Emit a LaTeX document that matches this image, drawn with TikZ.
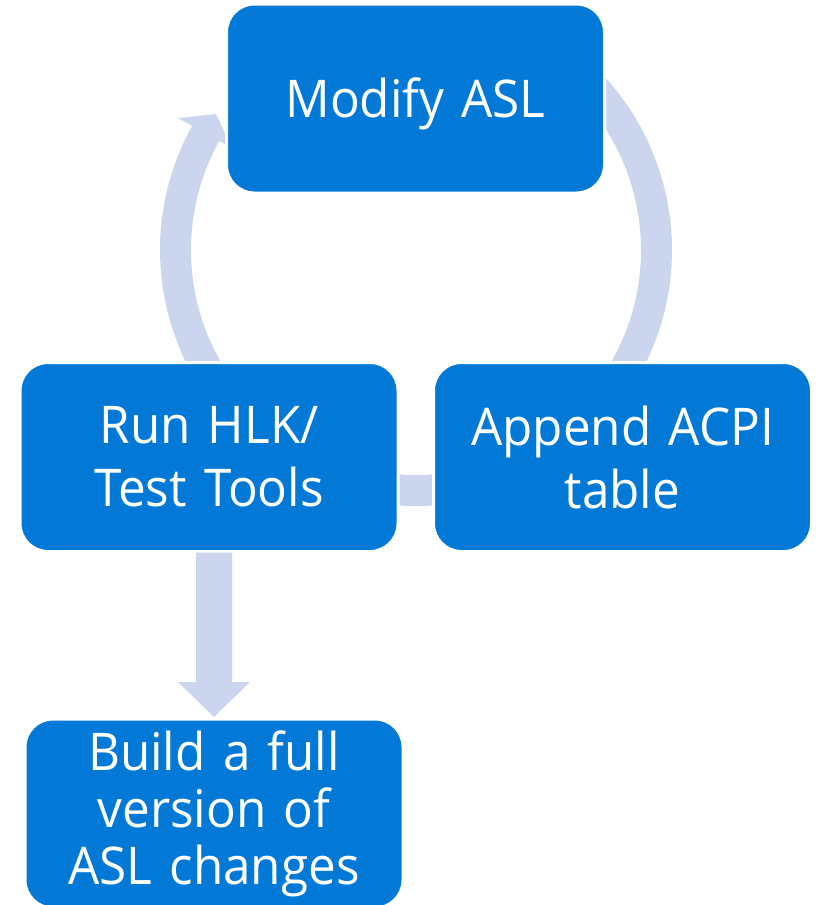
\documentclass[tikz,border=0pt]{standalone}
\usepackage{fontspec}
\setmainfont{Open Sans}[FakeStretch=0.95]
\usetikzlibrary{calc}
\pgfdeclarelayer{background}
\pgfsetlayers{background,main}
\definecolor{boxblue}{RGB}{2,121,215}
\definecolor{flowfill}{RGB}{203,213,238}
\tikzset{
  stage/.style={rectangle, rounded corners=28pt, fill=boxblue, draw=white,
    line width=3pt, outer sep=0pt, inner sep=0pt, minimum width=378pt,
    minimum height=189pt, text=white, align=center, text width=360pt,
    font=\fontsize{52}{63}\selectfont},
  tightlines/.style={font=\fontsize{52}{57}\selectfont},
  flow/.style={fill=flowfill, draw=none}
}
\begin{document}
\begin{tikzpicture}[x=1pt,y=1pt]
  \useasboundingbox (0,0) rectangle (821,-905);

  % process stages
  \node[stage, text height=37pt, text depth=0pt] (modify) at (415.5,-98.5) {Modify ASL};
  \node[stage] (run) at (209,-457) {Run HLK/\\Test Tools};
  \node[stage] (append) at (622.5,-457) {Append ACPI\\table};
  \node[stage, tightlines] (build) at (214,-813.5) {Build a full\\version of\\ASL changes};

  % centre of the iteration cycle
  \coordinate (c) at (416,-250);

  \begin{pgfonlayer}{background}
    % right band: Modify ASL -> Append ACPI table
    \fill[flow] ($(c)+(50:256)$) arc[start angle=50, end angle=-30, radius=256]
      -- ($(c)+(-30:225)$) arc[start angle=-30, end angle=50, radius=225] -- cycle;
    % bottom band: Append ACPI table -> Run HLK
    \fill[flow] ($(c)+(-60:256)$) arc[start angle=-60, end angle=-120, radius=256]
      -- ($(c)+(-120:225)$) arc[start angle=-120, end angle=-60, radius=225] -- cycle;
    % left band with head: Run HLK -> Modify ASL
    \fill[flow] ($(c)+(215:256)$) arc[start angle=215, end angle=151, radius=256]
      -- ($(c)+(151:272)$) -- ($(c)+(145.8:242)$) -- ($(c)+(151:210)$)
      -- ($(c)+(151:225)$) arc[start angle=151, end angle=215, radius=225] -- cycle;
  \end{pgfonlayer}

  % block arrow down to the full build
  \coordinate (dtop) at (run.south -| build.north);
  \fill[flow] ($(dtop)+(-18,-1)$) -- ($(dtop)+(18,-1)$)
    -- ($(build.north)+(18,37)$) -- ($(build.north)+(36,37)$)
    -- ($(build.north)+(0,2)$) -- ($(build.north)+(-36,37)$)
    -- ($(build.north)+(-18,37)$) -- cycle;
\end{tikzpicture}
\end{document}
